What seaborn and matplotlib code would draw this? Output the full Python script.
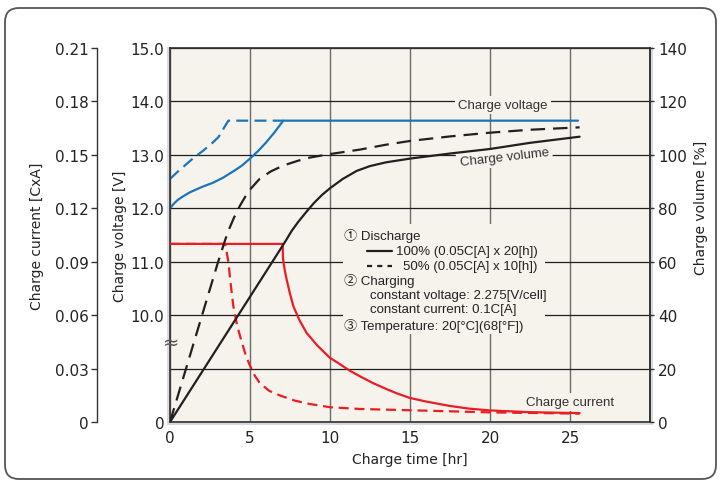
import matplotlib
matplotlib.use('Agg')
import matplotlib.pyplot as plt
from matplotlib.lines import Line2D
from matplotlib.patches import FancyBboxPatch, Rectangle
from matplotlib.transforms import IdentityTransform
import pandas as pd
import seaborn as sns

# Charge voltage [V] (blue)
volt100_time = [0, 0.25, 0.5, 0.8, 1.25, 2.0, 2.7, 3.3, 4.0, 4.5, 5.0, 5.5, 6.0, 6.5, 7.08, 25.5]
volt100_val = [12.0, 12.09, 12.16, 12.22, 12.30, 12.40, 12.48, 12.57, 12.70, 12.80, 12.93,
               13.07, 13.23, 13.41, 13.64, 13.64]
volt50_time = [0, 0.5, 1.04, 1.5, 2.08, 2.6, 3.02, 3.2, 3.4, 3.65, 7.08]
volt50_val = [12.55, 12.69, 12.83, 12.95, 13.08, 13.21, 13.33, 13.41, 13.52, 13.64, 13.64]

# Charge volume [%] (black)
vol100_time = [0, 7.04, 7.3, 7.6, 8.0, 8.5, 9.0, 9.5, 10, 10.8, 11.67, 12.5, 13.5, 15, 17.5,
               20, 22.5, 25.6]
vol100_val = [0, 66.0, 68.5, 71.5, 74.8, 78.5, 82.0, 85.0, 87.5, 91.0, 94.0, 95.8, 97.2, 98.6,
              100.5, 102.2, 104.5, 106.8]
vol50_time = [0, 1.875, 3.0, 3.44, 3.65, 4.0, 4.375, 4.7, 5.0, 5.6, 6.3, 7.08, 8.0, 8.75, 10,
              11.9, 13.5, 15, 17.5, 20, 22.5, 25.6]
vol50_val = [0, 37.4, 59.8, 68.0, 71.6, 76.5, 81.0, 84.3, 87.0, 91.0, 93.8, 96.0, 97.8, 99.0,
             100.3, 102.0, 103.8, 105.2, 106.9, 108.3, 109.4, 110.3]

# Charge current [CxA] (red)
cur100_time = [0, 7.04, 7.06, 7.12, 7.2, 7.29, 7.5, 7.71, 8.1, 8.54, 9.2, 10, 10.6, 11.2, 11.9,
               12.7, 13.5, 14.2, 15, 16, 17.5, 18.7, 20, 22.5, 25.6]
cur100_val = [0.1, 0.1, 0.092, 0.088, 0.084, 0.080, 0.072, 0.065, 0.057, 0.050, 0.043, 0.036,
              0.0326, 0.029, 0.0255, 0.0218, 0.0186, 0.016, 0.0135, 0.0115, 0.009, 0.0075,
              0.0065, 0.0055, 0.005]
cur50_time = [0, 3.44, 3.55, 3.65, 3.8, 3.96, 4.2, 4.48, 4.75, 5.0, 5.3, 5.6, 6.2, 6.9, 7.8,
              8.75, 10, 11.9, 15, 20, 25.6]
cur50_val = [0.1, 0.1, 0.095, 0.0897, 0.077, 0.065, 0.054, 0.045, 0.037, 0.0316, 0.026, 0.022,
             0.0175, 0.0148, 0.012, 0.0101, 0.0083, 0.0073, 0.0066, 0.0054, 0.0047]

x_ticks = [0, 5, 10, 15, 20, 25]
volt_ticks = [8, 9, 10, 11, 12, 13, 14, 15]
volt_labels = ['0', '', '10.0', '11.0', '12.0', '13.0', '14.0', '15.0']
cur_ticks = [0, 0.03, 0.06, 0.09, 0.12, 0.15, 0.18, 0.21]
cur_labels = ['0', '0.03', '0.06', '0.09', '0.12', '0.15', '0.18', '0.21']
vol_ticks = [0, 20, 40, 60, 80, 100, 120, 140]

BG = '#f6f3ed'
BLUE = '#1b75bb'
RED = '#ec1c24'
BLACK = '#231f20'
W, H = 721, 485


def fx(x):
    return x / W


def fy(y):
    return 1 - y / H


sns.set_theme(style='white')
plt.rcParams['font.family'] = ['DejaVu Sans']
ann_font = ['Liberation Sans', 'Noto Sans CJK JP', 'DejaVu Sans']

fig = plt.figure(figsize=(W / 100, H / 100), dpi=100)
fig.patch.set_facecolor('white')

# rounded outer border and frame shadow
fig.add_artist(FancyBboxPatch((5, 5), 711, 471, boxstyle='round,pad=0,rounding_size=14',
                              transform=IdentityTransform(), facecolor='none',
                              edgecolor='#555555', lw=1.3))
fig.add_artist(Rectangle((fx(167), fy(426)), 486 / W, 378 / H, transform=fig.transFigure,
                         facecolor='#dadada', edgecolor='none', zorder=-1))

ax = fig.add_axes([fx(170), fy(423), 480 / W, 374 / H])
ax.set_facecolor(BG)
ax.set_xlim(0, 30)
ax.set_ylim(8, 15)
ax.set_xticks(x_ticks)
ax.set_yticks(volt_ticks)
ax.set_yticklabels(volt_labels)
ax.tick_params(axis='both', length=0, labelsize=11, colors='#222222')
ax.tick_params(axis='x', pad=6)
ax.tick_params(axis='y', pad=4)
ax.grid(True, axis='y', color='#1e1e1e', lw=0.9)
ax.grid(True, axis='x', color='#6a6a6a', lw=1.0)
for s in ax.spines.values():
    s.set_color('#333333')
    s.set_linewidth(1.2)

ax.set_xlabel('Charge time [hr]', fontsize=10, color='#222222')
ax.xaxis.set_label_coords(0.5, (423 - 460) / 374)
ax.xaxis.label.set_va('center')

# voltage curves
sns.lineplot(x=volt100_time, y=volt100_val, ax=ax, color=BLUE, lw=1.6,
             estimator=None, sort=False)
sns.lineplot(x=volt50_time, y=volt50_val, ax=ax, color=BLUE, lw=1.6,
             estimator=None, sort=False, linestyle=(0, (5.4, 2.8)))

# current axis (outer left)
ax_cur = ax.twinx()
ax_cur.set_ylim(0, 0.21)
ax_cur.yaxis.tick_left()
ax_cur.yaxis.set_label_position('left')
for k in ['right', 'top', 'bottom']:
    ax_cur.spines[k].set_visible(False)
ax_cur.spines['left'].set_position(('axes', -73 / 480))
ax_cur.spines['left'].set_color('#333333')
ax_cur.spines['left'].set_linewidth(1.0)
ax_cur.set_yticks(cur_ticks)
ax_cur.set_yticklabels(cur_labels)
ax_cur.tick_params(axis='y', left=True, right=False, length=4, width=1, color='#333333',
                   direction='out', labelsize=11, labelcolor='#222222', pad=2)
ax_cur.grid(False)

sns.lineplot(x=cur100_time, y=cur100_val, ax=ax_cur, color=RED, lw=1.6,
             estimator=None, sort=False)
sns.lineplot(x=cur50_time, y=cur50_val, ax=ax_cur, color=RED, lw=1.6,
             estimator=None, sort=False, linestyle=(0, (4.5, 2.6)))

# volume axis (right)
ax_vol = ax.twinx()
ax_vol.set_ylim(0, 140)
for k in ['left', 'top', 'bottom']:
    ax_vol.spines[k].set_visible(False)
ax_vol.spines['right'].set_color('#333333')
ax_vol.spines['right'].set_linewidth(1.2)
ax_vol.set_yticks(vol_ticks)
ax_vol.tick_params(axis='y', right=True, left=False, length=3, width=1, color='#333333',
                   direction='out', labelsize=11, labelcolor='#222222', pad=3)
ax_vol.grid(False)

sns.lineplot(x=vol100_time, y=vol100_val, ax=ax_vol, color=BLACK, lw=1.6,
             estimator=None, sort=False)
sns.lineplot(x=vol50_time, y=vol50_val, ax=ax_vol, color=BLACK, lw=1.6,
             estimator=None, sort=False, linestyle=(0, (6.5, 3.6)))

# axis labels
ax_cur.set_ylabel('Charge current [CxA]', fontsize=10, color='#222222')
ax_cur.yaxis.set_label_coords((37 - 170) / 480, 0.5)
ax_cur.yaxis.label.set_va('center')
ax.set_ylabel('Charge voltage [V]', fontsize=10, color='#222222')
ax.yaxis.set_label_coords((120 - 170) / 480, 0.5)
ax.yaxis.label.set_va('center')
ax_vol.set_ylabel('Charge volume [%]', fontsize=10, color='#222222')
ax_vol.yaxis.set_label_coords((701 - 170) / 480, (423 - 208) / 374)
ax_vol.yaxis.label.set_va('center')

# curve names
box = dict(boxstyle='square,pad=0.25', facecolor=BG, edgecolor='none')
ax.text(20.8, 13.93, 'Charge voltage', ha='center', va='center', fontsize=9.5,
        family=ann_font, color='#333333', bbox=box, zorder=3)
ax.text(20.9, 12.96, 'Charge volume', ha='center', va='center', fontsize=9.5,
        family=ann_font, color='#333333', rotation=6.5, bbox=box, zorder=3)
ax.text(25.0, 8.375, 'Charge current', ha='center', va='center', fontsize=9.5,
        family=ann_font, color='#333333', bbox=box, zorder=3)

# axis break mark
ax.text(fx(171), fy(343), '\u2248', transform=fig.transFigure, ha='center', va='center',
        fontsize=14, color='#555555', clip_on=False, zorder=5)

# notes box
ax.add_patch(Rectangle((fx(343), fy(335)), (545 - 343) / W, (335 - 225) / H,
                       transform=fig.transFigure, facecolor=BG, edgecolor='none', zorder=2.5))
notes = [
    (344, 236, '\u2460 Discharge'),
    (396, 252, '100% (0.05C[A] x 20[h])'),
    (403, 267, '50% (0.05C[A] x 10[h])'),
    (344, 281, '\u2461 Charging'),
    (370, 296, 'constant voltage: 2.275[V/cell]'),
    (370, 310, 'constant current: 0.1C[A]'),
    (344, 326, '\u2462 Temperature: 20[\u00b0C](68[\u00b0F])'),
]
for nx, ny, s in notes:
    ax.text(fx(nx), fy(ny), s, transform=fig.transFigure, ha='left', va='center',
            fontsize=9.5, family=ann_font, color='#222222', zorder=3)
ax.add_line(Line2D([fx(367), fx(392)], [fy(252), fy(252)], transform=fig.transFigure,
                   color=BLACK, lw=1.6, zorder=3))
ax.add_line(Line2D([fx(367), fx(392)], [fy(267), fy(267)], transform=fig.transFigure,
                   color=BLACK, lw=1.6, linestyle=(0, (2.3, 2.3)), zorder=3))

fig.savefig('out.png', dpi=100)
